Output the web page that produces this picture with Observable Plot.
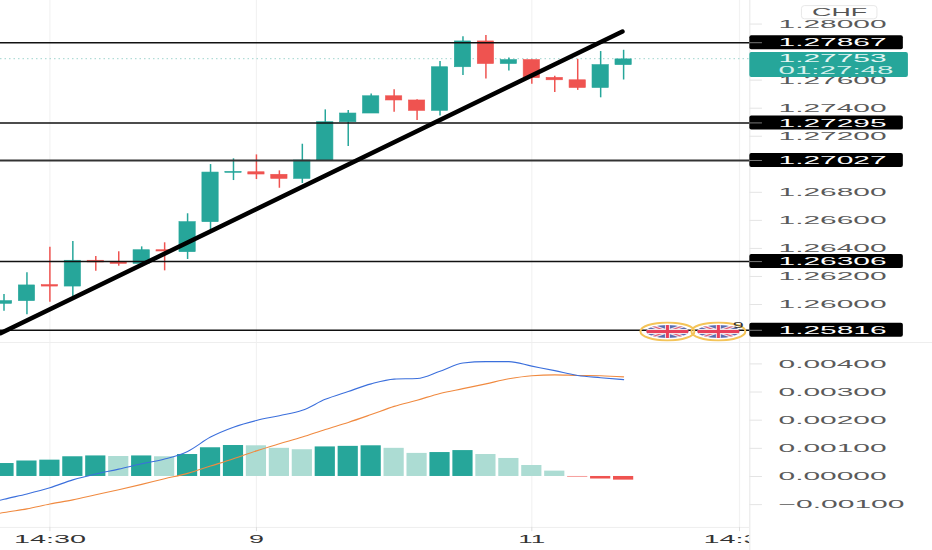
<!DOCTYPE html>
<html>
<head>
<meta charset="utf-8">
<script src="https://cdn.jsdelivr.net/npm/d3@7"></script>
<script src="https://cdn.jsdelivr.net/npm/@observablehq/plot@0.6"></script>
<style>
html,body{margin:0;padding:0;background:#fff;overflow:hidden}
svg{display:block}
</style>
</head>
<body>
<div id="chart"></div>
<script>
const opens  = [1.26005,1.26024,1.26138,1.26128,1.26312,1.26302,1.26290,1.26387,1.26373,1.26587,1.26939,1.26943,1.26925,1.26896,1.27027,1.27300,1.27362,1.27485,1.27455,1.27381,1.27692,1.27876,1.27715,1.27743,1.27616,1.27599,1.27544,1.27707];
const highs  = [1.26071,1.26226,1.26409,1.26449,1.26342,1.26376,1.26411,1.26440,1.26647,1.26998,1.27039,1.27067,1.26953,1.27143,1.27388,1.27383,1.27502,1.27531,1.27460,1.27733,1.27909,1.27919,1.27758,1.27743,1.27628,1.27748,1.27804,1.27813];
const lows   = [1.25952,1.25927,1.26016,1.26057,1.26237,1.26273,1.26266,1.26240,1.26321,1.26508,1.26884,1.26891,1.26829,1.26863,1.27027,1.27127,1.27362,1.27371,1.27312,1.27345,1.27633,1.27609,1.27666,1.27570,1.27512,1.27527,1.27474,1.27601];
const closes = [1.26024,1.26136,1.26128,1.26312,1.26300,1.26290,1.26387,1.26378,1.26587,1.26941,1.26946,1.26927,1.26896,1.27027,1.27300,1.27362,1.27485,1.27455,1.27381,1.27692,1.27876,1.27715,1.27743,1.27614,1.27599,1.27544,1.27707,1.27748];

const histogram = [.00046,.00055,.00058,.00070,.00073,.00071,.00073,.00070,.00078,.00102,.00110,.00109,.00100,.00095,.00105,.00107,.00109,.00100,.00082,.00085,.00092,.00078,.00064,.00039,.00019,-.00002,-.00009,-.00013];
const histShade = ["d","d","d","d","d","l","d","l","d","d","d","l","l","l","d","d","d","l","l","d","d","l","l","l","l","r","r","r"];
// MACD and signal start one bar before the first candle, off the left edge
const macd   = [-.00103,-.00081,-.00062,-.00040,-.00012,.00009,.00026,.00045,.00062,.00089,.00140,.00175,.00199,.00216,.00235,.00274,.00302,.00329,.00346,.00348,.00374,.00403,.00408,.00408,.00392,.00376,.00359,.00351,.00344];
const signal = [-.00145,-.00128,-.00115,-.00098,-.00083,-.00065,-.00047,-.00028,-.00008,.00011,.00037,.00063,.00091,.00116,.00140,.00167,.00192,.00220,.00249,.00271,.00295,.00312,.00329,.00347,.00358,.00361,.00359,.00358,.00354];

const levels = [1.27867,1.27295,1.27027,1.26306,1.25816];
const priceTicks = [1.28000,1.27600,1.27400,1.27200,1.26800,1.26600,1.26400,1.26200,1.26000];
const macdPos = [.004,.003,.002,.001,0];
const macdNeg = [-.001];
const lastPrice = 1.27753;
const countdown = "01:27:48";
const timeTicks = [{i:2,label:"14:30",cls:"t5"},{i:11,label:"9",cls:"t1"},{i:23,label:"11",cls:"t2"},{i:32.05,label:"14:30",cls:"t5"}];
const trend = [{i:-0.15,p:1.25795},{i:26.95,p:1.27947}];
const flags = [{i:28.91,p:1.25808},{i:31.13,p:1.25808}];

const teal="#26a69a", red="#ef5350", paleTeal="#acdcd3";
const xDomain=[-0.1525,40.46], axisX=32.5, tickX=33.05, boxX=39.19, tealX=39.41, labelX=33.75;
const bars = opens.map((o,i)=>({i,o,h:highs[i],l:lows[i],c:closes[i],col:closes[i]>=o?teal:red}));
const hist = histogram.map((v,i)=>({i,v,col:{d:teal,l:paleTeal,r:red}[histShade[i]]}));
const fmt = d=>(d<0?"\u2212":"")+Math.abs(d).toFixed(5);

const flagSvg = `<svg xmlns="http://www.w3.org/2000/svg" width="57" height="20" viewBox="0 0 57 20"><defs><clipPath id="c"><ellipse cx="28.5" cy="10" rx="21" ry="6.5"/></clipPath></defs><g clip-path="url(#c)"><rect width="57" height="20" fill="#5a6db0"/><path d="M6 2L51 18M6 18L51 2" stroke="#f1e6ea" stroke-width="3.5"/><path d="M6 2L51 18M6 18L51 2" stroke="#e0607a" stroke-width="1.2"/><path d="M28.5 0V20M0 10H57" stroke="#f1e6ea" stroke-width="5"/><path d="M28.5 0V20M0 10H57" stroke="#e8405a" stroke-width="3"/></g><ellipse cx="28.5" cy="10" rx="27" ry="9" fill="none" stroke="#f4c458" stroke-width="2"/></svg>`;
const flagSrc = "data:image/svg+xml;charset=utf-8,"+encodeURIComponent(flagSvg);

const base = {width:932,marginTop:0,marginBottom:0,marginLeft:0,marginRight:0,
  x:{domain:xDomain,axis:null},color:{type:"identity"},
  style:{fontFamily:"'Liberation Sans',sans-serif",background:"transparent"}};

const pricePane = Plot.plot({...base,height:342,
  y:{domain:[1.25729,1.28168],axis:null},
  marks:[
    Plot.ruleX(timeTicks,{x:"i",stroke:"#f2f2f2",strokeWidth:1.2}),
    Plot.ruleY([lastPrice],{x1:xDomain[0],x2:axisX,stroke:"#9fd4ce",strokeWidth:1,strokeDasharray:"1.5,3"}),
    Plot.ruleX(bars,{x:"i",y1:"l",y2:"h",stroke:"col",strokeWidth:1.5,clip:true}),
    Plot.rect(bars,{x1:d=>d.i-.355,x2:d=>d.i+.355,y1:"o",y2:"c",fill:"col",stroke:"col",strokeWidth:.6,clip:true}),
    Plot.ruleY(levels,{x1:xDomain[0],x2:axisX,stroke:d=>d===1.27027?"#333":"#111",strokeWidth:d=>d===1.27027?1.9:1.5}),
    Plot.line(trend,{x:"i",y:"p",stroke:"#000",strokeWidth:4.5,clip:true}),
    Plot.ruleY(priceTicks,{x1:axisX,x2:tickX,stroke:"#e4e4e4"}),
    Plot.text(priceTicks,{x:labelX,y:d=>d,text:fmt,fill:"#5a5a5a",fontSize:11.5,textAnchor:"start",className:"n7"}),
    Plot.ruleX([axisX],{stroke:"#e6e6e6",strokeWidth:1}),
    Plot.rect(levels,{x1:axisX,x2:boxX,y1:d=>d-.0005,y2:d=>d+.0005,fill:"#000",rx:2}),
    Plot.rect([lastPrice],{x1:axisX,x2:tealX,y1:1.27619,y2:1.27797,fill:teal,rx:2}),
    Plot.ruleY(levels,{x1:axisX,x2:tickX,stroke:"#777"}),
    Plot.text(levels,{x:labelX,y:d=>d,text:fmt,fill:"#fff",fontSize:11.5,textAnchor:"start",className:"n7"}),
    Plot.text([lastPrice],{x:labelX,y:1.27755,text:fmt,fill:"#e6f6f4",fontSize:11,textAnchor:"start",className:"n7"}),
    Plot.text([countdown],{x:labelX,y:1.2767,text:d=>d,fill:"#d5f0ec",fontSize:10.5,textAnchor:"start",className:"n8c"}),
    Plot.rect(["CHF"],{x1:34.77,x2:38.06,y1:1.28034,y2:1.28128,fill:"#fff",stroke:"#e8e8e8",rx:3}),
    Plot.text(["CHF"],{x:36.41,y:1.2808,text:d=>d,fill:"#555",fontSize:11,className:"chf"}),
    Plot.image(flags,{x:"i",y:"p",src:()=>flagSrc,width:57,height:20,preserveAspectRatio:"none"}),
    Plot.text(["9"],{x:32.0,y:1.2585,text:d=>d,fill:"#333",fontSize:9,className:"nine"})
  ]});

const macdPane = Plot.plot({...base,height:208,
  y:{domain:[-.00263,.00476],axis:null},
  marks:[
    Plot.ruleX(timeTicks,{x:"i",y1:-.00181,y2:.00476,stroke:"#f2f2f2",strokeWidth:1.2}),
    Plot.rect(hist,{x1:d=>d.i-.44,x2:d=>d.i+.44,y1:0,y2:"v",fill:"col",clip:true}),
    Plot.line(signal,{x:(d,i)=>i-1,y:d=>d,stroke:"#f08a40",strokeWidth:1.1,curve:"monotone-x",clip:true}),
    Plot.line(macd,{x:(d,i)=>i-1,y:d=>d,stroke:"#3b6fdc",strokeWidth:1.1,curve:"monotone-x",clip:true}),
    Plot.ruleY([-.00181],{x1:xDomain[0],x2:axisX,stroke:"#eeeeee"}),
    Plot.ruleX(timeTicks,{x:"i",y1:-.00181,y2:-.00196,stroke:"#ddd"}),
    ...timeTicks.map(t=>Plot.text([t.label],{x:t.i,y:-.00224,text:d=>d,fill:"#333",fontSize:11.5,className:t.cls})),
    Plot.rect([0],{x1:axisX,x2:xDomain[1],y1:-.00263,y2:.00476,fill:"#fff"}),
    Plot.ruleY([...macdPos,...macdNeg],{x1:axisX,x2:tickX,stroke:"#e4e4e4"}),
    Plot.ruleY([.00476],{stroke:"#eeeeee"}),
    Plot.text(macdPos,{x:labelX,y:d=>d,text:fmt,fill:"#5a5a5a",fontSize:11.5,textAnchor:"start",className:"n7"}),
    Plot.text(macdNeg,{x:labelX,y:d=>d,text:fmt,fill:"#5a5a5a",fontSize:11.5,textAnchor:"start",className:"n8"}),
    Plot.ruleX([axisX],{stroke:"#e6e6e6",strokeWidth:1})
  ]});

document.getElementById("chart").append(pricePane,macdPane);

// the reference's labels are stretched horizontally; keep them as real text but widen the glyphs
const widths={n7:108,n8:126,n8c:115,chf:55,t5:72,t2:27,t1:15,nine:11};
for(const [cls,w] of Object.entries(widths)){
  d3.selectAll(`g.${cls} text, text.${cls}`).attr("textLength",w).attr("lengthAdjust","spacingAndGlyphs");
}
</script>
</body>
</html>
